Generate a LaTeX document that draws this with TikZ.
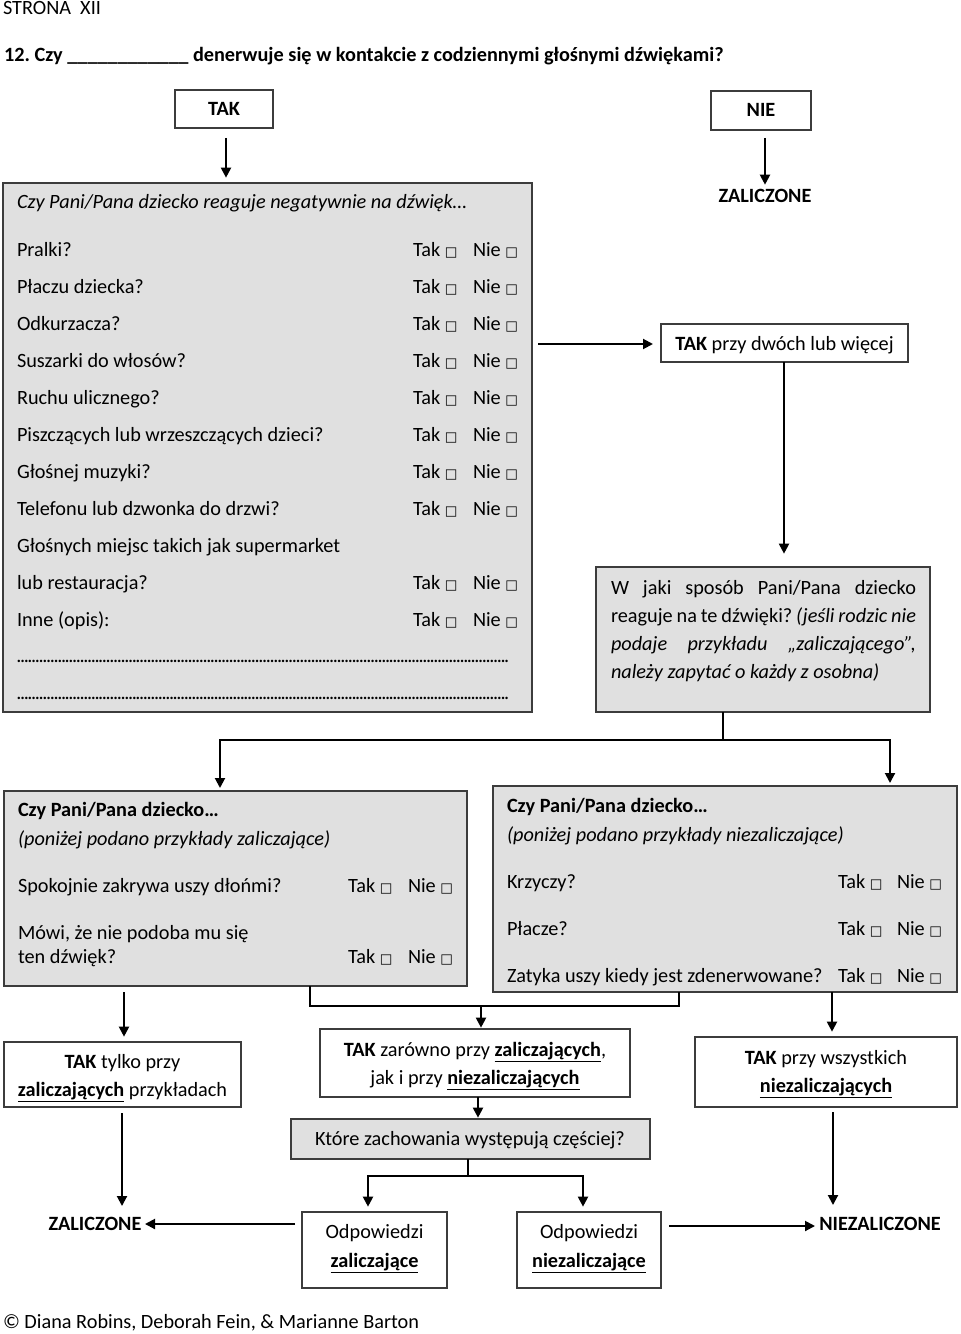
\documentclass[tikz,border=0pt]{standalone}
\usepackage{fontspec}
\setmainfont{Carlito}
\newfontfamily\djv{DejaVu Sans}
\usetikzlibrary{arrows.meta,fit}
\frenchspacing
\definecolor{boxgray}{RGB}{224,224,224}
\definecolor{edge}{RGB}{60,60,60}
\newcommand\fs{\fontsize{15.2}{18}\selectfont}
\newcommand\kw{{\djv\fontsize{10}{10}\selectfont □}}
\newcommand\ul[1]{\underline{\textbf{#1}}}
\newcommand\jl[1]{\makebox[228.75pt][s]{#1}}
\tikzset{
  every node/.style={font=\fs, inner sep=0pt, outer sep=0pt},
  lbl/.style={anchor=base west},
  ctr/.style={anchor=base},
  bld/.style={font=\fs\bfseries},
  box/.style={draw=edge, line width=1.1pt},
  gbox/.style={box, fill=boxgray},
  arr/.style={line width=1.5pt, -{Triangle[length=7.5pt,width=7.5pt]}},
  ln/.style={line width=1.2pt},
}
\begin{document}
\begin{tikzpicture}[x=0.75pt,y=-0.75pt]
\useasboundingbox (0,0) rectangle (960,1334);

% header
\node[lbl] (strona) at (3,15) {STRONA\ \ XII};
\node[lbl,bld] (title) at (4,62) {12. Czy \_\_\_\_\_\_\_\_\_\_\_\_ denerwuje się w kontakcie z codziennymi głośnymi dźwiękami?};

% TAK / NIE
\node[box, fit={(175,90)(273,128)}] (tak) {};
\node[ctr,bld] (takt) at (224,116) {TAK};
\node[box, fit={(711,91)(811,130)}] (nie) {};
\node[ctr,bld] (niet) at (761,117) {NIE};
\node[ctr,bld] (zal1) at (765,202) {ZALICZONE};

% big gray box
\node[gbox, fit={(3,183)(532,712)}] (big) {};
\node[lbl] (bighead) at (17,209) {\itshape Czy Pani/Pana dziecko reaguje negatywnie na dźwięk…};
\foreach \t/\yy [count=\i] in {Pralki?/256,Płaczu dziecka?/293,Odkurzacza?/330,Suszarki do włosów?/367,Ruchu ulicznego?/404,Piszczących lub wrzeszczących dzieci?/441,Głośnej muzyki?/478,Telefonu lub dzwonka do drzwi?/515,Głośnych miejsc takich jak supermarket/552,lub restauracja?/589,Inne (opis):/626}
  {\node[lbl] (q\i) at (17,\yy) {\t};}
\foreach \yy [count=\i] in {256,293,330,367,404,441,478,515,589,626}
  {\node[lbl] (tk\i) at (413,\yy) {Tak \kw};
   \node[lbl] (nk\i) at (473,\yy) {Nie \kw};}
\node[lbl] (dots1) at (17,662) {\makebox[369.75pt]{\leaders\hbox to 2.8pt{\hss.\hss}\hfill}};
\node[lbl] (dots2) at (17,699) {\makebox[369.75pt]{\leaders\hbox to 2.8pt{\hss.\hss}\hfill}};

% TAK przy dwoch
\node[box, fit={(661,324)(908,362)}] (dwoch) {};
\node[ctr] (dwocht) at (784.5,350) {\textbf{TAK} przy dwóch lub więcej};

% W jaki sposob
\node[gbox, fit={(596,567)(930,712)}] (wjaki) {};
\node[lbl] (wj1) at (611,594) {\jl{W jaki sposób Pani/Pana dziecko}};
\node[lbl] (wj2) at (611,622) {\jl{reaguje na te dźwięki? \textit{(jeśli rodzic nie}}};
\node[lbl] (wj3) at (611,650) {\jl{\itshape podaje przykładu „zaliczającego”,}};
\node[lbl] (wj4) at (611,678) {\itshape należy zapytać o każdy z osobna)};

% left lower box
\node[gbox, fit={(4,791)(467,986)}] (lbox) {};
\node[lbl,bld] (lb1) at (18,816) {Czy Pani/Pana dziecko…};
\node[lbl] (lb2) at (18,845) {\itshape (poniżej podano przykłady zaliczające)};
\node[lbl] (lb3) at (18,892) {Spokojnie zakrywa uszy dłońmi?};
\node[lbl] (lb4) at (18,939) {Mówi, że nie podoba mu się};
\node[lbl] (lb5) at (18,963) {ten dźwięk?};
\node[lbl] (ltk1) at (348,892) {Tak \kw};
\node[lbl] (lnk1) at (408,892) {Nie \kw};
\node[lbl] (ltk2) at (348,963) {Tak \kw};
\node[lbl] (lnk2) at (408,963) {Nie \kw};

% right lower box
\node[gbox, fit={(493,786)(957,992)}] (rbox) {};
\node[lbl,bld] (rb1) at (507,812) {Czy Pani/Pana dziecko…};
\node[lbl] (rb2) at (507,841) {\itshape (poniżej podano przykłady niezaliczające)};
\node[lbl] (rb3) at (507,888) {Krzyczy?};
\node[lbl] (rb4) at (507,935) {Płacze?};
\node[lbl] (rb5) at (507,982) {Zatyka uszy kiedy jest zdenerwowane?};
\foreach \yy [count=\i] in {888,935,982}
  {\node[lbl] (rtk\i) at (838,\yy) {Tak \kw};
   \node[lbl] (rnk\i) at (897,\yy) {Nie \kw};}

% bottom boxes
\node[box, fit={(4,1042)(241,1107)}] (tylko) {};
\node[ctr] (tylko1) at (122.5,1068) {\textbf{TAK} tylko przy};
\node[ctr] (tylko2) at (122.5,1096) {\ul{zaliczających} przykładach};

\node[box, fit={(320,1029)(630,1097)}] (mid) {};
\node[ctr] (mid1) at (475,1056) {\textbf{TAK} zarówno przy \ul{zaliczających},};
\node[ctr] (mid2) at (475,1084) {jak i przy \ul{niezaliczających}};

\node[box, fit={(695,1037)(957,1107)}] (wsz) {};
\node[ctr] (wsz1) at (826,1064) {\textbf{TAK} przy wszystkich};
\node[ctr] (wsz2) at (826,1092) {\ul{niezaliczających}};

\node[gbox, fit={(291,1119)(650,1159)}] (ktore) {};
\node[ctr] (ktoret) at (470,1145) {Które zachowania występują częściej?};

\node[box, fit={(302,1212)(447,1288)}] (oz) {};
\node[ctr] (oz1) at (374.5,1238) {Odpowiedzi};
\node[ctr] (oz2) at (374.5,1267) {\ul{zaliczające}};

\node[box, fit={(517,1212)(661,1288)}] (on) {};
\node[ctr] (on1) at (589,1238) {Odpowiedzi};
\node[ctr] (on2) at (589,1267) {\ul{niezaliczające}};

\node[anchor=base,bld] (zal2) at (95,1230) {ZALICZONE};
\node[anchor=base,bld] (niezal) at (880,1230) {NIEZALICZONE};

\node[lbl] (copy) at (3,1328) {© Diana Robins, Deborah Fein, \& Marianne Barton};

% connectors
\draw[arr] (226,138) coordinate (a1) -- (a1 |- big.north) [shorten >=4pt];
\draw[arr, shorten <=6pt, shorten >=3pt] (765,130) coordinate (a2) -- (a2 |- zal1.north);
\coordinate (a3) at (538,344);
\draw[arr, shorten >=6pt] (a3) -- (a3 -| dwoch.west);
\draw[arr, shorten >=10pt] (784,362) coordinate (a4) -- (a4 |- wjaki.north);
\coordinate (j1) at (723,740);
\coordinate (la) at (220,788);
\coordinate (ra) at (890,783);
\draw[ln] (j1 |- wjaki.south) -- (j1);
\draw[arr] (j1) -| (la);
\draw[arr] (j1) -| (ra);
\coordinate (b1) at (124,992);
\draw[arr, shorten >=4pt] (b1) -- (b1 |- tylko.north);
\coordinate (m1) at (310,1006);
\coordinate (m2) at (679,1006);
\coordinate (m3) at (481,1006);
\draw[ln] (m1 |- lbox.south) -- (m1) -- (m2) -- (m2 |- rbox.south);
\draw[arr, shorten >=1pt] (m3) -- (m3 |- mid.north);
\coordinate (b2) at (832,992);
\draw[arr, shorten >=4pt] (b2) -- (b2 |- wsz.north);
\coordinate (b3) at (478,1097);
\draw[arr, shorten >=1pt] (b3) -- (b3 |- ktore.north);
\coordinate (k1) at (468,1176);
\coordinate (k2) at (368,1176);
\coordinate (k3) at (583,1176);
\draw[ln] (k1 |- ktore.south) -- (k1);
\draw[arr, shorten >=4pt] (k1) -- (k2) -- (k2 |- oz.north);
\draw[arr, shorten >=4pt] (k1) -- (k3) -- (k3 |- on.north);
\coordinate (c1) at (122,1113);
\draw[arr] (c1) -- (122,1206) coordinate (c1e);
\coordinate (c2) at (295,1224);
\draw[arr] (c2) -- (145,1224) coordinate (c2e);
\coordinate (c3) at (833,1112);
\draw[arr] (c3) -- (833,1205) coordinate (c3e);
\coordinate (c4) at (669,1226);
\draw[arr] (c4) -- (815,1226) coordinate (c4e);
\end{tikzpicture}
\end{document}
